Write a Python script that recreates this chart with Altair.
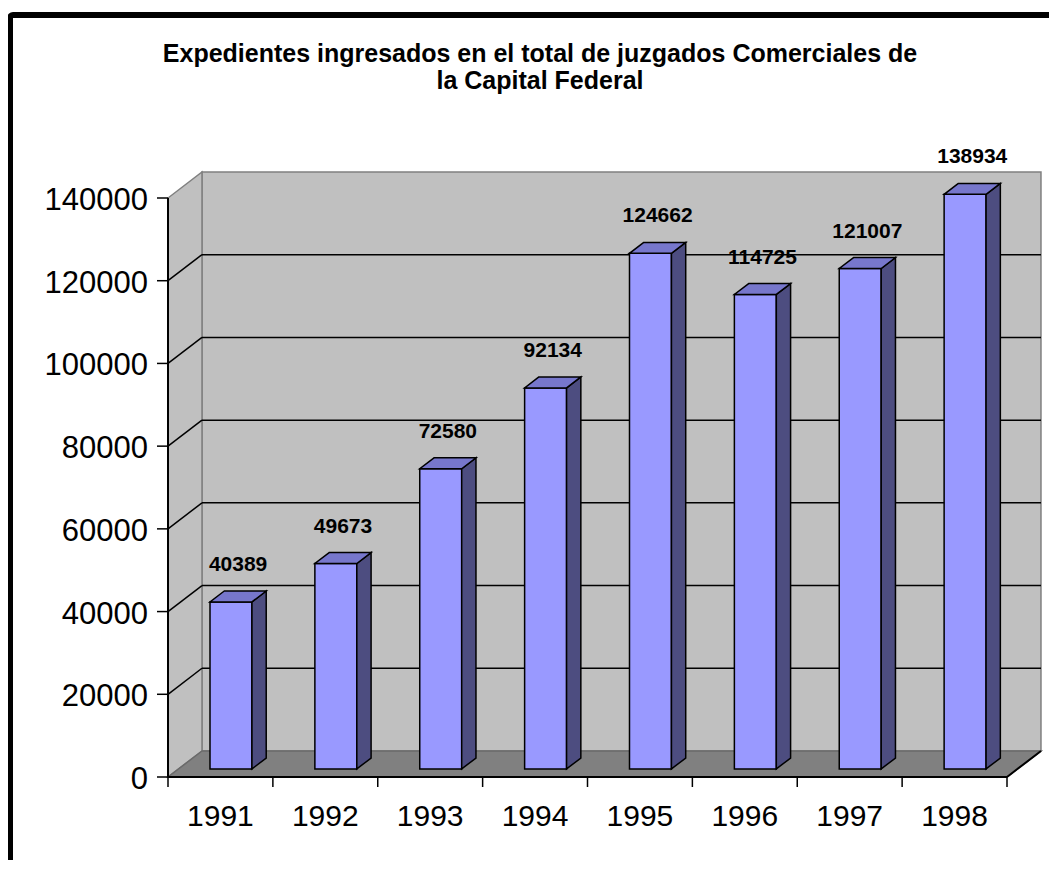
import altair as alt
import pandas as pd

# ---------------- data ----------------
years = ["1991", "1992", "1993", "1994", "1995", "1996", "1997", "1998"]
values = [40389, 49673, 72580, 92134, 124662, 114725, 121007, 138934]
y_ticks = [0, 20000, 40000, 60000, 80000, 100000, 120000, 140000]
title_lines = ["Expedientes ingresados en el total de juzgados Comerciales de",
               "la Capital Federal"]

# ---------------- 3-D geometry (in data units) ----------------
N = len(years)
YMAX = y_ticks[-1]
DX = 0.324     # floor depth along x, category units
DY = 6290      # floor depth along y, value units
F = 0.31       # depth fraction where bar front face sits
B = 0.42       # bar depth fraction
BW = 0.40      # bar width, category units
TKX = 0.105    # y-axis tick length, category units
TKY = 2420     # x-axis tick length, value units

FONT = "Liberation Sans"
xs = alt.Scale(domain=[0, N], nice=False, zero=False)
ys = alt.Scale(domain=[0, YMAX], nice=False, zero=False)


def X(f):
    return alt.X(f, type="quantitative", scale=xs, axis=None)


def Y(f):
    return alt.Y(f, type="quantitative", scale=ys, axis=None)


# back wall
wall_df = pd.DataFrame([{"x": DX, "x2": N + DX, "y": DY, "y2": YMAX + DY}])
back_wall = alt.Chart(wall_df).mark_rect(
    fill="#c0c0c0", stroke="#808080", strokeWidth=1.5
).encode(x=X("x"), x2="x2:Q", y=Y("y"), y2="y2:Q")

# left side wall
left_df = pd.DataFrame([{"x": 0, "lo": 0, "hi": YMAX},
                        {"x": DX, "lo": DY, "hi": YMAX + DY}])
left_wall = alt.Chart(left_df).mark_area(
    orient="vertical", fill="#c0c0c0", stroke="#808080", strokeWidth=1.5
).encode(x=X("x"), y=Y("lo"), y2="hi:Q")

# floor
floor_df = pd.DataFrame([{"y": 0, "xl": 0, "xr": N},
                         {"y": DY, "xl": DX, "xr": N + DX}])
floor = alt.Chart(floor_df).mark_area(
    orient="horizontal", fill="#808080", stroke="#6a6a6a", strokeWidth=1.5
).encode(y=Y("y"), x=X("xl"), x2="xr:Q")

# gridlines on back wall and diagonals on the left wall
grid_df = pd.DataFrame({"v": y_ticks[1:-1]})
grid_df["y"] = grid_df["v"] + DY
grid_df["x"] = DX
grid_df["x2"] = N + DX
grid_back = alt.Chart(grid_df).mark_rule(color="black", strokeWidth=1.5).encode(
    x=X("x"), x2="x2:Q", y=Y("y"))

diag_df = pd.DataFrame({"v": y_ticks[1:-1]})
diag_df["x"] = 0
diag_df["x2"] = DX
diag_df["y2"] = diag_df["v"] + DY
grid_diag = alt.Chart(diag_df).mark_rule(color="black", strokeWidth=1.5).encode(
    x=X("x"), x2="x2:Q", y=Y("v"), y2="y2:Q")

edge_df = pd.DataFrame([{"x": N, "x2": N + DX, "y": 0, "y2": DY}])
floor_edge = alt.Chart(edge_df).mark_rule(color="black", strokeWidth=2).encode(
    x=X("x"), x2="x2:Q", y=Y("y"), y2="y2:Q")

# bars
rows_front, rows_side, rows_top, rows_lab = [], [], [], []
for i, (yr, v) in enumerate(zip(years, values)):
    xl = i + 0.5 - BW / 2 + F * DX
    xr = i + 0.5 + BW / 2 + F * DX
    y0 = F * DY
    rows_front.append({"year": yr, "xl": xl, "xr": xr, "y0": y0, "y1": v + y0})
    rows_side.append({"year": yr, "x": xr, "lo": y0, "hi": v + y0})
    rows_side.append({"year": yr, "x": xr + B * DX, "lo": (F + B) * DY,
                      "hi": v + (F + B) * DY})
    rows_top.append({"year": yr, "y": v + y0, "xl": xl, "xr": xr})
    rows_top.append({"year": yr, "y": v + (F + B) * DY,
                     "xl": xl + B * DX, "xr": xr + B * DX})
    rows_lab.append({"year": yr, "label": str(v),
                     "x": i + 0.5 + (F + B / 2) * DX, "y": v + (F + B) * DY})

bar_front = alt.Chart(pd.DataFrame(rows_front)).mark_rect(
    fill="#9999ff", stroke="black", strokeWidth=1.5
).encode(x=X("xl"), x2="xr:Q", y=Y("y0"), y2="y1:Q")

bar_side = alt.Chart(pd.DataFrame(rows_side)).mark_area(
    orient="vertical", fill="#4d4d80", stroke="black", strokeWidth=1.5
).encode(x=X("x"), y=Y("lo"), y2="hi:Q", detail="year:N")

bar_top = alt.Chart(pd.DataFrame(rows_top)).mark_area(
    orient="horizontal", fill="#7777cc", stroke="black", strokeWidth=1.5
).encode(y=Y("y"), x=X("xl"), x2="xr:Q", detail="year:N")

value_labels = alt.Chart(pd.DataFrame(rows_lab)).mark_text(
    font=FONT, fontSize=21, fontWeight="bold", color="black",
    baseline="alphabetic", align="center", dy=-20
).encode(x=X("x"), y=Y("y"), text="label:N")

# ---------------- axes, drawn from the tick lists ----------------
yax_df = pd.DataFrame({"v": y_ticks, "label": [str(t) for t in y_ticks]})
yax_df["x"] = 0
yax_df["xt"] = -TKX
y_ticks_mark = alt.Chart(yax_df).mark_rule(color="black", strokeWidth=1.5).encode(
    x=X("xt"), x2="x:Q", y=Y("v"))
y_labels = alt.Chart(yax_df).mark_text(
    font=FONT, fontSize=31, color="black", align="right", baseline="middle",
    dx=-20, dy=3
).encode(x=X("x"), y=Y("v"), text="label:N")

dom_df = pd.DataFrame([{"x": 0, "x2": 0, "y": 0, "y2": YMAX},
                       {"x": 0, "x2": N, "y": 0, "y2": 0}])
domains = alt.Chart(dom_df).mark_rule(color="black", strokeWidth=2).encode(
    x=X("x"), x2="x2:Q", y=Y("y"), y2="y2:Q")

xt_df = pd.DataFrame({"x": list(range(N + 1))})
xt_df["y"] = 0
xt_df["yt"] = -TKY
x_ticks_mark = alt.Chart(xt_df).mark_rule(color="black", strokeWidth=1.5).encode(
    x=X("x"), y=Y("y"), y2="yt:Q")

year_df = pd.DataFrame({"year": years, "x": [i + 0.5 for i in range(N)], "y": 0})
year_labels = alt.Chart(year_df).mark_text(
    font=FONT, fontSize=30, color="black", baseline="alphabetic",
    align="center", dy=49
).encode(x=X("x"), y=Y("y"), text="year:N")

# ---------------- title and outer frame (decoration) ----------------
title1 = alt.Chart(alt.Data(values=[{"k": 1}])).mark_text(
    font=FONT, fontSize=25, fontWeight="bold", color="black",
    align="center", baseline="alphabetic"
).encode(x=alt.value(372), y=alt.value(-136), text=alt.value(title_lines[0]))
title2 = alt.Chart(alt.Data(values=[{"k": 1}])).mark_text(
    font=FONT, fontSize=25, fontWeight="bold", color="black",
    align="center", baseline="alphabetic"
).encode(x=alt.value(372), y=alt.value(-109), text=alt.value(title_lines[1]))

frame = alt.Chart(alt.Data(values=[{"k": 1}])).mark_rect(
    fill="transparent", stroke="black", strokeWidth=6, cornerRadius=3
).encode(x=alt.value(-158), x2=alt.value(900), y=alt.value(-183), y2=alt.value(700))

chart = alt.layer(
    back_wall, left_wall, floor, grid_back, grid_diag, floor_edge,
    bar_front, bar_side, bar_top, value_labels,
    y_ticks_mark, y_labels, domains, x_ticks_mark, year_labels,
    title1, title2, frame
).properties(
    width=839, height=579,
    padding={"left": 160, "top": 190, "right": 42, "bottom": 83},
    autosize=alt.AutoSizeParams(type="none"),
    background="white",
).configure_view(strokeWidth=0)

chart.save("out.html", embed_options={"renderer": "svg", "actions": False})
